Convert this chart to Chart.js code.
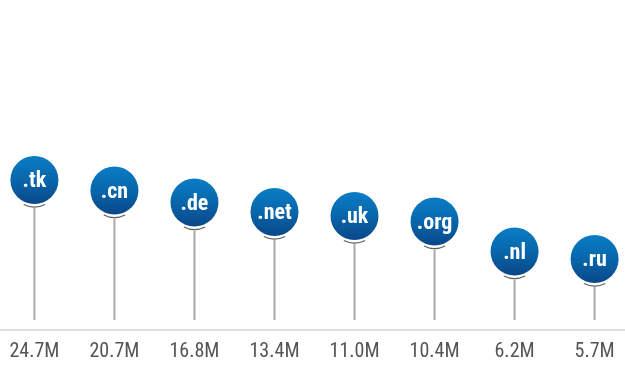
<!DOCTYPE html>
<html>
<head>
<meta charset="utf-8">
<script src="https://cdn.jsdelivr.net/npm/chart.js@4/dist/chart.umd.min.js"></script>
<style>
html,body{margin:0;padding:0;background:#fff;}
#wrap{width:625px;height:380px;position:relative;}
</style>
</head>
<body>
<div id="wrap"><canvas id="chart"></canvas></div>
<script>
// Top-level domains (circle labels)
const domains = ['.tk', '.cn', '.de', '.net', '.uk', '.org', '.nl', '.ru'];
// Registered domains (axis labels)
const valueLabels = ['24.7M', '20.7M', '16.8M', '13.4M', '11.0M', '10.4M', '6.2M', '5.7M'];
// Height of each circle above the baseline
const heights = [150, 139.5, 127.5, 118, 114, 108.5, 78.5, 71];

const lollipopPlugin = {
  id: 'lollipop',
  beforeDatasetsDraw(chart) {
    const ctx = chart.ctx;
    const meta = chart.getDatasetMeta(0);
    const bottom = chart.chartArea.bottom;
    ctx.save();
    meta.data.forEach((pt) => {
      const x = pt.x, y = pt.y;
      // stem
      ctx.strokeStyle = '#a8aaa8';
      ctx.lineWidth = 2;
      ctx.beginPath();
      ctx.moveTo(x, y + 28);
      ctx.lineTo(x, bottom - 10);
      ctx.stroke();
      // small shadow arc below the circle
      ctx.strokeStyle = '#5f6060';
      ctx.lineWidth = 1.3;
      ctx.beginPath();
      ctx.arc(x, y + 3, 24, Math.PI / 2 - 0.46, Math.PI / 2 + 0.46);
      ctx.stroke();
    });
    ctx.restore();
  },
  afterDatasetsDraw(chart) {
    const ctx = chart.ctx;
    const meta = chart.getDatasetMeta(0);
    ctx.save();
    ctx.fillStyle = '#ffffff';
    ctx.font = 'bold 22px "Roboto Condensed", Roboto, sans-serif';
    ctx.textAlign = 'center';
    ctx.textBaseline = 'alphabetic';
    meta.data.forEach((pt, i) => {
      ctx.fillText(domains[i], pt.x, pt.y + 7);
    });
    ctx.restore();
  }
};

const ctx = document.getElementById('chart').getContext('2d');
const chart = new Chart(ctx, {
  type: 'scatter',
  data: {
    datasets: [{
      data: heights.map((h, i) => ({ x: i, y: h })),
      pointRadius: 24,
      pointHoverRadius: 24,
      pointBorderWidth: 0,
      borderWidth: 0,
      clip: false,
      pointBackgroundColor: (c) => {
        const chart = c.chart;
        if (!chart.chartArea || c.type !== 'data') return '#0866ab';
        const y = chart.scales.y.getPixelForValue(c.parsed.y);
        const g = chart.ctx.createLinearGradient(0, y - 24, 0, y + 24);
        g.addColorStop(0, '#0a7dc5');
        g.addColorStop(0.5, '#0866ab');
        g.addColorStop(1, '#0a4788');
        return g;
      }
    }]
  },
  options: {
    responsive: true,
    maintainAspectRatio: false,
    animation: false,
    events: [],
    layout: { autoPadding: false, padding: { left: 0, right: 0, top: 0, bottom: 6 } },
    plugins: {
      legend: { display: false },
      tooltip: { enabled: false }
    },
    scales: {
      x: {
        type: 'linear',
        min: -0.43,
        max: 7.38,
        grid: { display: false, drawTicks: false },
        border: { display: true, color: '#e0e0e0', width: 2 },
        afterBuildTicks: (axis) => {
          axis.ticks = valueLabels.map((_, i) => ({ value: i }));
        },
        afterFit: (axis) => {
          axis.paddingLeft = 0;
          axis.paddingRight = 0;
        },
        ticks: {
          padding: 10,
          color: '#555555',
          font: { family: '"Roboto Condensed", Roboto, sans-serif', size: 20 },
          callback: (v) => valueLabels[v],
          maxRotation: 0,
          autoSkip: false
        }
      },
      y: {
        display: false,
        min: 0,
        max: 330
      }
    }
  },
  plugins: [lollipopPlugin]
});
</script>
</body>
</html>
